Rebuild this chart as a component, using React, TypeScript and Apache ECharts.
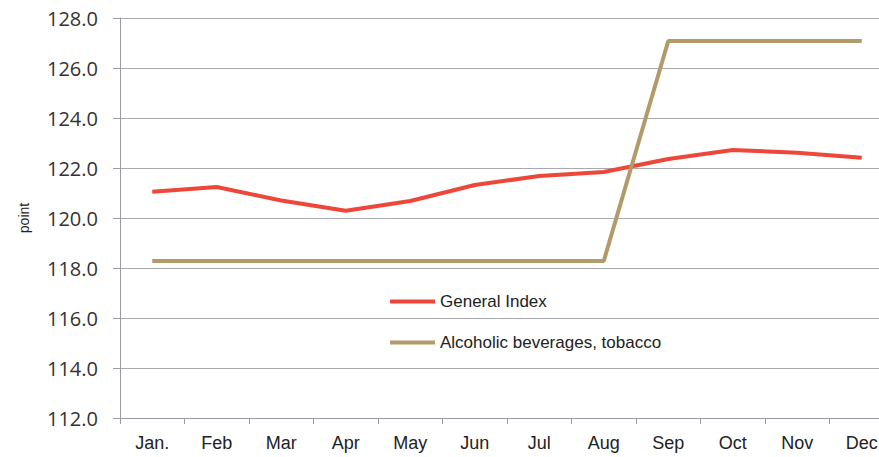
import React, { useEffect, useRef } from "react";
import * as echarts from "echarts";

const months = ["Jan.", "Feb", "Mar", "Apr", "May", "Jun", "Jul", "Aug", "Sep", "Oct", "Nov", "Dec"];
const generalIndex = [121.05, 121.24, 120.7, 120.29, 120.68, 121.32, 121.68, 121.84, 122.36, 122.72, 122.61, 122.41];
const alcoholTobacco = [118.28, 118.28, 118.28, 118.28, 118.28, 118.28, 118.28, 118.28, 127.08, 127.08, 127.08, 127.08];

export default function App() {
  const ref = useRef<HTMLDivElement>(null);
  useEffect(() => {
    if (!ref.current) return;
    const chart = echarts.init(ref.current, null, { renderer: "svg" });
    chart.setOption({
      animation: false,
      backgroundColor: "#ffffff",
      grid: { left: 120, right: 6, top: 18, bottom: 39 },
      legend: {
        orient: "vertical",
        left: 385,
        top: 288,
        itemWidth: 45,
        itemHeight: 4,
        itemGap: 24,
        icon: "rect",
        textStyle: { fontFamily: "Liberation Sans, Arial, sans-serif", fontSize: 17, color: "#222" },
        data: ["General Index", "Alcoholic beverages, tobacco"],
      },
      xAxis: {
        type: "category",
        data: months,
        boundaryGap: true,
        axisLine: { lineStyle: { color: "#9a9aa2", width: 1 } },
        axisTick: { show: true, length: 6, lineStyle: { color: "#9a9aa2" } },
        axisLabel: { margin: 16, fontFamily: "Liberation Sans, Arial, sans-serif", fontSize: 18, color: "#222" },
      },
      yAxis: {
        type: "value",
        min: 112,
        max: 128,
        interval: 2,
        name: "point",
        nameLocation: "middle",
        nameGap: 89,
        nameRotate: 90,
        nameTextStyle: { fontFamily: "Liberation Sans, Arial, sans-serif", fontSize: 14, color: "#222" },
        axisLine: { show: true, lineStyle: { color: "#9a9aa2", width: 1 } },
        axisTick: { show: true, length: 7, lineStyle: { color: "#9a9aa2" } },
        axisLabel: {
          margin: 22,
          fontFamily: "Open Sans, sans-serif",
          fontSize: 20,
          color: "#333",
          formatter: (v: number) => v.toFixed(1),
        },
        splitLine: { show: true, lineStyle: { color: "#a8a8b0", width: 1 } },
      },
      series: [
        {
          name: "General Index",
          type: "line",
          data: generalIndex,
          symbol: "none",
          lineStyle: { color: "#EE4638", width: 4 },
          itemStyle: { color: "#EE4638" },
        },
        {
          name: "Alcoholic beverages, tobacco",
          type: "line",
          data: alcoholTobacco,
          symbol: "none",
          lineStyle: { color: "#B39A69", width: 4 },
          itemStyle: { color: "#B39A69" },
        },
      ],
    });
    return () => chart.dispose();
  }, []);
  return (
    <div style={{ position: "fixed", left: 0, top: 0, width: 879, height: 457, overflow: "hidden", background: "#fff" }}>
      <div ref={ref} style={{ width: 900, height: 457 }} />
    </div>
  );
}
